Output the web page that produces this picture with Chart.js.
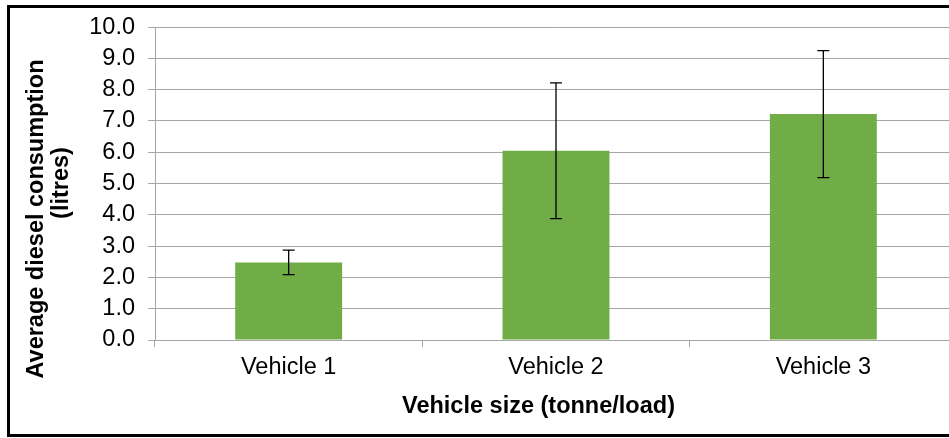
<!DOCTYPE html>
<html>
<head>
<meta charset="utf-8">
<script src="https://cdn.jsdelivr.net/npm/chart.js@4/dist/chart.umd.min.js"></script>
<style>
  html, body { margin: 0; padding: 0; background: #ffffff; overflow: hidden; }
  #wrap { position: absolute; left: 0; top: 0; width: 957px; height: 438px; }
</style>
</head>
<body>
<div id="wrap"><canvas id="c"></canvas></div>
<script>
const categories = ['Vehicle 1', 'Vehicle 2', 'Vehicle 3'];
const values = [2.48, 6.05, 7.22];
const errors = [0.39, 2.17, 2.03];
const yTitleLines = ['Average diesel consumption', '(litres)'];
const xTitle = 'Vehicle size (tonne/load)';

const FONT = '"Liberation Sans", Arial, sans-serif';
const GRID = '#A6A6A6';

const errorBars = {
  id: 'errorBars',
  afterDatasetsDraw(chart) {
    const ctx = chart.ctx;
    const meta = chart.getDatasetMeta(0);
    const ys = chart.scales.y;
    ctx.save();
    ctx.strokeStyle = '#000000';
    ctx.lineWidth = 1.3;
    meta.data.forEach((bar, i) => {
      const x = bar.x;
      const top = ys.getPixelForValue(values[i] + errors[i]);
      const bot = ys.getPixelForValue(values[i] - errors[i]);
      ctx.beginPath();
      ctx.moveTo(x, top); ctx.lineTo(x, bot);
      ctx.moveTo(x - 6, top); ctx.lineTo(x + 6, top);
      ctx.moveTo(x - 6, bot); ctx.lineTo(x + 6, bot);
      ctx.stroke();
    });
    ctx.restore();
  }
};

const decor = {
  id: 'decor',
  afterDraw(chart) {
    const ctx = chart.ctx;
    ctx.save();
    ctx.fillStyle = '#000000';
    ctx.font = 'bold 23.5px ' + FONT;
    ctx.textAlign = 'center';
    ctx.textBaseline = 'middle';
    ctx.fillText(xTitle, 538.5, 407);
    ctx.save();
    ctx.translate(37, 219);
    ctx.rotate(-Math.PI / 2);
    ctx.fillText(yTitleLines[0], 0, 0);
    ctx.restore();
    ctx.save();
    ctx.translate(62, 183);
    ctx.rotate(-Math.PI / 2);
    ctx.fillText(yTitleLines[1], 0, 0);
    ctx.restore();
    ctx.strokeStyle = '#000000';
    ctx.lineWidth = 3;
    ctx.strokeRect(8.5, 6.5, 1000, 429);
    ctx.restore();
  }
};

new Chart(document.getElementById('c'), {
  type: 'bar',
  data: {
    labels: categories,
    datasets: [{
      data: values,
      backgroundColor: '#70AD47',
      borderWidth: 0,
      barPercentage: 0.4,
      categoryPercentage: 1.0
    }]
  },
  options: {
    responsive: true,
    maintainAspectRatio: false,
    animation: false,
    devicePixelRatio: 1,
    layout: { padding: { top: 18, left: 0, right: 0, bottom: 0 } },
    plugins: { legend: { display: false }, tooltip: { enabled: false } },
    scales: {
      x: {
        offset: true,
        grid: { display: true, drawOnChartArea: false, offset: true, tickLength: 7, color: GRID },
        border: { display: true, color: GRID },
        ticks: { color: '#000000', font: { family: FONT, size: 23.5 }, padding: 6, maxRotation: 0 },
        afterFit(s) { s.height = 98; }
      },
      y: {
        min: 0, max: 10,
        grid: { color: GRID, tickLength: 7 },
        border: { display: true, color: GRID },
        ticks: {
          stepSize: 1,
          color: '#000000',
          font: { family: FONT, size: 23.5 },
          padding: 13,
          callback: v => Number(v).toFixed(1)
        },
        afterFit(s) { s.width = 155; }
      }
    }
  },
  plugins: [errorBars, decor]
});
</script>
</body>
</html>
